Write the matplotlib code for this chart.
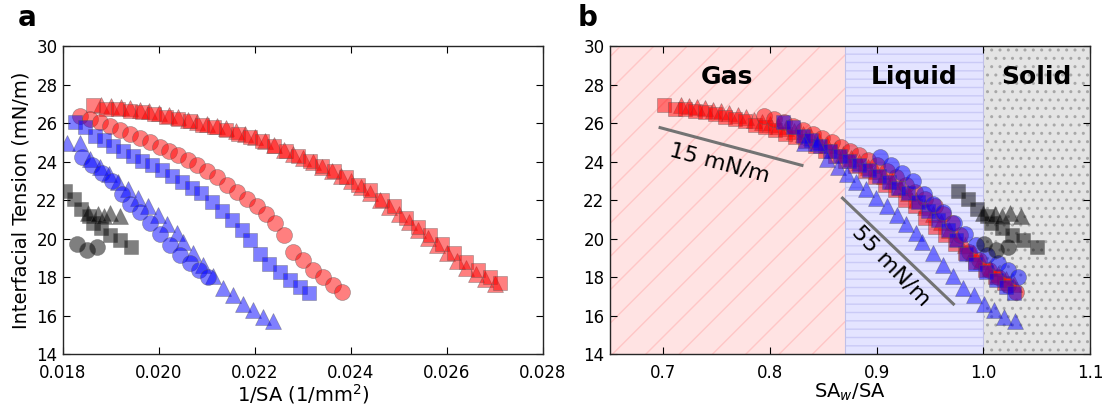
#!/usr/bin/env python3
"""
Interfacial tension isotherms: raw (1/SA) and collapsed (SA_w/SA) views
"""

import numpy as np
import matplotlib
matplotlib.use('Agg')
import matplotlib.pyplot as plt

# ---- data (1/SA in 1/mm^2, tension in mN/m) ----
red_tri_x = [0.01880, 0.01900, 0.01920, 0.01940, 0.01960, 0.01980, 0.02000, 0.02020,
             0.02040, 0.02060, 0.02080, 0.02100, 0.02120, 0.02140, 0.02160, 0.02180,
             0.02200, 0.02220, 0.02240, 0.02260, 0.02280, 0.02300, 0.02320, 0.02340,
             0.02360, 0.02380, 0.02400, 0.02420, 0.02440, 0.02460, 0.02480, 0.02500,
             0.02520, 0.02540, 0.02560, 0.02580, 0.02600, 0.02620, 0.02640, 0.02660,
             0.02680, 0.02700]
red_tri_y = [26.95, 26.88, 26.85, 26.78, 26.70, 26.62, 26.52, 26.42,
             26.30, 26.18, 26.05, 25.95, 25.85, 25.72, 25.58, 25.42,
             25.25, 25.05, 24.85, 24.62, 24.40, 24.20, 23.95, 23.70,
             23.50, 23.25, 23.00, 22.70, 22.35, 22.00, 21.62, 21.25,
             20.85, 20.45, 20.05, 19.65, 19.25, 18.85, 18.48, 18.15,
             17.90, 17.62]

red_sq_x = [0.01863, 0.01890, 0.01915, 0.01940, 0.01965, 0.01990, 0.02015, 0.02040,
            0.02065, 0.02090, 0.02115, 0.02140, 0.02165, 0.02190, 0.02215, 0.02240,
            0.02265, 0.02290, 0.02315, 0.02340, 0.02365, 0.02390, 0.02415, 0.02440,
            0.02465, 0.02490, 0.02515, 0.02540, 0.02565, 0.02590, 0.02615, 0.02640,
            0.02665, 0.02690, 0.02710]
red_sq_y = [26.95, 26.75, 26.72, 26.62, 26.55, 26.45, 26.32, 26.20,
            26.08, 25.92, 25.78, 25.62, 25.45, 25.28, 25.05, 24.82,
            24.55, 24.30, 24.05, 23.78, 23.50, 23.20, 22.80, 22.50,
            21.98, 21.70, 21.05, 20.62, 20.20, 19.70, 19.25, 18.80,
            18.35, 18.00, 17.70]

red_circ_x = [0.01835, 0.01856, 0.01877, 0.01898, 0.01919, 0.01940, 0.01960, 0.01981,
              0.02002, 0.02020, 0.02040, 0.02060, 0.02080, 0.02100, 0.02120, 0.02142,
              0.02162, 0.02183, 0.02204, 0.02222, 0.02242, 0.02260, 0.02279, 0.02300,
              0.02321, 0.02342, 0.02363, 0.02381]
red_circ_y = [26.36, 26.20, 26.05, 25.82, 25.62, 25.43, 25.22, 25.00,
              24.78, 24.56, 24.32, 24.06, 23.80, 23.52, 23.18, 22.80,
              22.42, 22.08, 21.70, 21.25, 20.80, 20.20, 19.32, 18.87,
              18.38, 18.00, 17.60, 17.23]

blue_sq_x = [0.01825, 0.01846, 0.01867, 0.01885, 0.01904, 0.01925, 0.01946, 0.01965,
             0.01985, 0.02006, 0.02027, 0.02048, 0.02068, 0.02088, 0.02110, 0.02131,
             0.02152, 0.02173, 0.02190, 0.02210, 0.02230, 0.02252, 0.02273, 0.02294,
             0.02312]
blue_sq_y = [26.05, 25.80, 25.35, 25.10, 24.82, 24.56, 24.30, 24.05,
             23.80, 23.55, 23.25, 22.95, 22.62, 22.35, 21.90, 21.45,
             20.95, 20.42, 19.92, 19.20, 18.68, 18.26, 17.85, 17.48,
             17.15]

blue_tri_x = [0.01808, 0.01835, 0.01856, 0.01877, 0.01896, 0.01915, 0.01935, 0.01956,
              0.01977, 0.01998, 0.02017, 0.02037, 0.02050, 0.02071, 0.02092, 0.02113,
              0.02133, 0.02154, 0.02175, 0.02196, 0.02217, 0.02238]
blue_tri_y = [24.95, 24.95, 24.15, 23.70, 23.35, 22.95, 22.55, 22.10,
              21.70, 21.22, 20.75, 20.30, 19.80, 19.25, 18.65, 18.05,
              17.45, 17.05, 16.62, 16.28, 15.95, 15.70]

blue_circ_x = [0.01840, 0.01860, 0.01881, 0.01902, 0.01923, 0.01940, 0.01960, 0.01981,
               0.02002, 0.02023, 0.02044, 0.02065, 0.02083, 0.02102]
blue_circ_y = [24.25, 23.82, 23.40, 22.97, 22.30, 21.78, 21.40, 20.80,
               20.22, 19.65, 19.15, 18.75, 18.35, 18.00]

black_sq_x = [0.01805, 0.01822, 0.01838, 0.01855, 0.01862, 0.01880, 0.01898, 0.01918,
              0.01942]
black_sq_y = [22.45, 22.05, 21.55, 21.15, 20.80, 20.55, 20.20, 19.95, 19.55]

black_tri_x = [0.01852, 0.01872, 0.01885, 0.01898, 0.01918]
black_tri_y = [21.35, 21.30, 21.15, 21.35, 21.15]

black_circ_x = [0.01829, 0.01850, 0.01871]
black_circ_y = [19.70, 19.38, 19.54]

# onset area SA_w (mm^2) used to collapse each isotherm
sa_w = {
    'red_tri': 38.1, 'red_sq': 37.6, 'red_circ': 43.3,
    'blue_sq': 44.5, 'blue_tri': 46.0, 'blue_circ': 49.1,
    'black_sq': 54.1, 'black_tri': 54.0, 'black_circ': 54.7,
}

x_ticks_a = [0.018, 0.020, 0.022, 0.024, 0.026, 0.028]
x_ticks_b = [0.7, 0.8, 0.9, 1.0, 1.1]
y_ticks = [14, 16, 18, 20, 22, 24, 26, 28, 30]

# phase regions in SA_w/SA
phases = ['Gas', 'Liquid', 'Solid']
phase_edges = [0.65, 0.87, 1.0, 1.1]

series = [
    ('red_tri', red_tri_x, red_tri_y, 'r', '^'),
    ('red_sq', red_sq_x, red_sq_y, 'r', 's'),
    ('red_circ', red_circ_x, red_circ_y, 'r', 'o'),
    ('blue_sq', blue_sq_x, blue_sq_y, 'b', 's'),
    ('blue_tri', blue_tri_x, blue_tri_y, 'b', '^'),
    ('blue_circ', blue_circ_x, blue_circ_y, 'b', 'o'),
    ('black_sq', black_sq_x, black_sq_y, 'k', 's'),
    ('black_tri', black_tri_x, black_tri_y, 'k', '^'),
    ('black_circ', black_circ_x, black_circ_y, 'k', 'o'),
]
marker_size = {'^': 11, 's': 10, 'o': 11.5}


def style_axes(ax):
    ax.tick_params(direction='in', top=True, right=True, length=5, labelsize=12, pad=4)
    ax.tick_params(axis='x', pad=7)
    for sp in ax.spines.values():
        sp.set_linewidth(1.0)
        sp.set_color('0.15')


fig = plt.figure(figsize=(11.06, 4.07), dpi=100)
ax1 = fig.add_axes([0.057, 0.130, 0.434, 0.757])
ax2 = fig.add_axes([0.5515, 0.130, 0.434, 0.757])

# Panel a: raw isotherms
for name, xs, ys, c, m in series:
    ax1.plot(xs, ys, linestyle='none', marker=m, markersize=marker_size[m],
             color=c, alpha=0.5, markeredgecolor='0.35', markeredgewidth=0.5)
ax1.set_xlim(0.018, 0.028)
ax1.set_ylim(14, 30)
ax1.set_xticks(x_ticks_a)
ax1.set_xticklabels(['%.3f' % t for t in x_ticks_a])
ax1.set_yticks(y_ticks)
ax1.set_xlabel('1/SA (1/mm$^2$)', fontsize=14, labelpad=0)
ax1.set_ylabel('Interfacial Tension (mN/m)', fontsize=14)
style_axes(ax1)

# Panel b: collapsed isotherms with phase regions
span_styles = [
    dict(facecolor='#ffe3e3', edgecolor='#ffc6c6', hatch='/'),
    dict(facecolor='#e4e4ff', edgecolor='#cacaf6', hatch='--'),
    dict(facecolor='#e4e4e4', edgecolor='#a8a8a8', hatch='..'),
]
for i, ph in enumerate(phases):
    ax2.axvspan(phase_edges[i], phase_edges[i + 1], linewidth=0, zorder=0, **span_styles[i])
    if i < 2:
        ax2.axvline(phase_edges[i + 1], color='#c0c0e8', linewidth=0.8, zorder=0.5)
    ax2.text((phase_edges[i] + phase_edges[i + 1]) / 2, 28.4, ph, fontsize=18,
             fontweight='bold', ha='center', va='center')

for name, xs, ys, c, m in series:
    xr = np.array(xs) * sa_w[name]
    ax2.plot(xr, ys, linestyle='none', marker=m, markersize=marker_size[m],
             color=c, alpha=0.5, markeredgecolor='0.35', markeredgewidth=0.5)

# slope guides
ax2.plot([0.697, 0.830], [25.76, 23.80], color='0.45', linewidth=2.2)
ax2.text(0.753, 23.9, '15 mN/m', fontsize=16, rotation=-15, ha='center', va='center')
ax2.plot([0.868, 0.972], [22.1, 16.6], color='0.45', linewidth=2.2)
ax2.text(0.914, 18.6, '55 mN/m', fontsize=16, rotation=-46, ha='center', va='center')

ax2.set_xlim(0.65, 1.1)
ax2.set_ylim(14, 30)
ax2.set_xticks(x_ticks_b)
ax2.set_yticks(y_ticks)
ax2.set_xlabel('SA$_w$/SA', fontsize=14, labelpad=0)
style_axes(ax2)

fig.text(0.016, 0.955, 'a', fontsize=20, fontweight='bold', ha='left', va='center')
fig.text(0.522, 0.955, 'b', fontsize=20, fontweight='bold', ha='left', va='center')

plt.savefig('out.png', dpi=100)
plt.close()
